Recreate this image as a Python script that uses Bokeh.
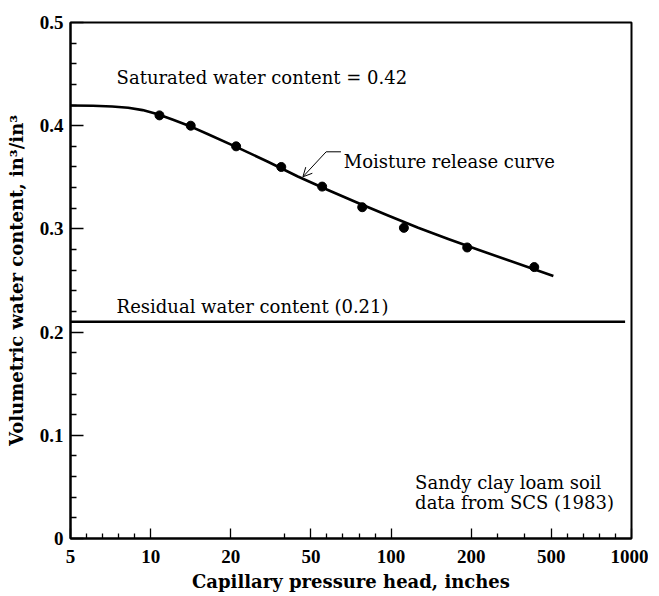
import numpy as np
from bokeh.plotting import figure
from bokeh.models import (Range1d, FixedTicker, CustomJSTickFormatter, Label,
                          Arrow, OpenHead, ColumnDataSource)
from bokeh.embed import file_html
from bokeh.resources import INLINE

# ---- data -------------------------------------------------------------
# x axis tick values (axis is drawn with equally spaced labelled ticks)
x_tick_values = [5, 10, 20, 50, 100, 200, 500, 1000]
x_tick_labels = ["5", "10", "20", "50", "100", "200", "500", "1000"]
x_minor_values = [6, 7, 8, 9, 40, 60, 70, 80, 90, 300, 400, 600, 700, 800, 900]

y_tick_values = [0.0, 0.1, 0.2, 0.3, 0.4, 0.5]
y_tick_labels = ["0", "0.1", "0.2", "0.3", "0.4", "0.5"]
y_minor_values = [0.02, 0.04, 0.06, 0.08, 0.12, 0.14, 0.16, 0.18,
                  0.22, 0.24, 0.26, 0.28, 0.32, 0.34, 0.36, 0.38,
                  0.42, 0.44, 0.46, 0.48]

# measured points (capillary pressure head, inches / volumetric water content)
pressure_head_in = [11.1, 15.0, 22.0, 38.9, 57.0, 82.0, 116.0, 195.0, 436.0]
water_content = [0.410, 0.400, 0.380, 0.360, 0.341, 0.321, 0.301, 0.282, 0.263]

# moisture release curve
curve_head_in = [5.0, 6.4, 7.6, 8.6, 9.5, 10.9, 12.8, 14.6, 17.1, 22.6, 33.9,
                 45.1, 60.6, 79.4, 98.1, 133.8, 171.3, 226.3, 338.8, 451.3, 512.5]
curve_theta = [0.4196, 0.4194, 0.4186, 0.4174, 0.4151, 0.4110, 0.4057, 0.4005,
               0.3920, 0.3788, 0.3651, 0.3508, 0.3377, 0.3251, 0.3130, 0.3011,
               0.2902, 0.2798, 0.2696, 0.2595, 0.2544]

saturated_wc = 0.42
residual_wc = 0.21
residual_line_head = [5.0, 960.0]


def to_axis(v):
    """Map pressure head values onto the chart's equally spaced tick axis."""
    return np.interp(np.asarray(v, dtype=float), x_tick_values,
                     np.arange(len(x_tick_values)))


serif = "DejaVu Serif"
tick_font = "Liberation Serif"

p = figure(width=648, height=595, output_backend="svg",
           toolbar_location=None, x_range=Range1d(0, 7), y_range=Range1d(0, 0.5),
           min_border_left=70, min_border_right=17, min_border_top=22,
           min_border_bottom=57)
p.background_fill_color = "white"
p.border_fill_color = "white"
p.xgrid.visible = False
p.ygrid.visible = False
p.outline_line_color = "black"
p.outline_line_width = 2
p.outline_line_alpha = 1

# x axis
xa = p.xaxis[0]
xa.ticker = FixedTicker(ticks=list(to_axis(x_tick_values)),
                        minor_ticks=list(to_axis(x_minor_values)))
xa.formatter = CustomJSTickFormatter(args=dict(labels=x_tick_labels),
                                     code="return labels[Math.round(tick)];")
xa.axis_label = "Capillary pressure head, inches"
xa.axis_label_text_font = serif
xa.axis_label_text_font_style = "bold"
xa.axis_label_text_font_size = "18px"
xa.axis_label_text_color = "black"
xa.axis_label_standoff = 5
xa.major_label_text_font = tick_font
xa.major_label_text_font_style = "bold"
xa.major_label_text_font_size = "19px"
xa.major_label_text_color = "black"
xa.major_label_standoff = 11
xa.major_tick_in = 10
xa.major_tick_out = 0
xa.minor_tick_in = 5
xa.minor_tick_out = 0
xa.axis_line_width = 2
xa.major_tick_line_width = 1.3
xa.minor_tick_line_width = 1.3

# y axis
ya = p.yaxis[0]
ya.ticker = FixedTicker(ticks=y_tick_values, minor_ticks=y_minor_values)
ya.formatter = CustomJSTickFormatter(args=dict(labels=y_tick_labels),
                                     code="return labels[Math.round(tick * 10)];")
ya.axis_label = "Volumetric water content, in\u00b3/in\u00b3"
ya.axis_label_text_font = serif
ya.axis_label_text_font_style = "bold"
ya.axis_label_text_font_size = "18px"
ya.axis_label_text_color = "black"
ya.axis_label_standoff = 10
ya.major_label_text_font = tick_font
ya.major_label_text_font_style = "bold"
ya.major_label_text_font_size = "19px"
ya.major_label_text_color = "black"
ya.major_label_standoff = 7
ya.major_tick_in = 13
ya.major_tick_out = 0
ya.minor_tick_in = 6
ya.minor_tick_out = 0
ya.axis_line_width = 2
ya.major_tick_line_width = 1.3
ya.minor_tick_line_width = 1.3

# residual water content line
p.line(to_axis(residual_line_head), [residual_wc, residual_wc],
       line_color="black", line_width=2.6)

# moisture release curve
p.line(to_axis(curve_head_in), curve_theta, line_color="black", line_width=2.6,
       line_join="round")

# data points
src = ColumnDataSource(dict(x=to_axis(pressure_head_in), y=water_content))
p.scatter("x", "y", source=src, size=9, marker="circle",
          fill_color="black", line_color="black")

# annotations
def add_label(x, y, text):
    p.add_layout(Label(x=x, y=y, text=text, text_font=serif,
                       text_font_size="18px", text_color="black",
                       text_baseline="alphabetic", text_align="left"))

add_label(0.575, 0.4467, "Saturated water content = %.2f" % saturated_wc)
add_label(0.575, 0.2251, "Residual water content (%.2f)" % residual_wc)
add_label(3.41, 0.3653, "Moisture release curve")
add_label(4.30, 0.0543, "Sandy clay loam soil")
add_label(4.30, 0.0349, "data from SCS (1983)")

# leader to the curve
p.line([3.375, 3.19], [0.3747, 0.3747], line_color="black", line_width=1)
p.add_layout(Arrow(x_start=3.19, y_start=0.3747, x_end=2.90, y_end=0.3505,
                   line_color="black", line_width=1,
                   end=OpenHead(size=9, line_color="black", line_width=1)))

open("out.html", "w").write(file_html(p, INLINE))
